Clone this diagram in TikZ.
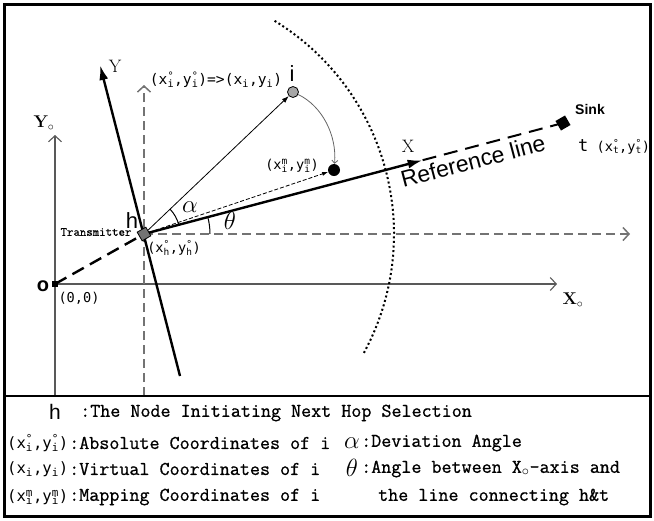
\documentclass[tikz,border=0pt]{standalone}
\usepackage{fontspec}
\setmonofont{Latin Modern Mono}[FakeBold=0.8]
\newfontfamily\lab{Liberation Sans}
\newfontfamily\cfont{DejaVu Sans Mono}
\usetikzlibrary{arrows.meta,calc}
\pgfdeclarelayer{bg}
\pgfsetlayers{bg,main}
\newcommand\supsub[2]{{\setbox0\hbox{\textsuperscript{#1}}\setbox2\hbox{\textsubscript{#2}}\ifdim\wd0>\wd2 \rlap{\box2}\box0\else\rlap{\box0}\box2\fi}}
\begin{document}
\begin{tikzpicture}[x=1pt,y=1pt,
  axiszero/.style={draw=black!65, line width=1.1pt, -{Straight Barb[length=6pt,width=13pt]}},
  dashaxis/.style={draw=black!55, line width=1.5pt, dash pattern=on 9pt off 5pt, -{Straight Barb[length=6pt,width=13pt]}},
  rotaxis/.style={line width=2.4pt, -{Latex[length=15pt,width=9pt]}},
  thickdash/.style={line width=2.4pt, dash pattern=on 13pt off 7pt},
  dotarc/.style={line width=2pt, dash pattern=on 2pt off 2.6pt},
  hnode/.style={rectangle, draw, line width=0.8pt, fill=black!55, minimum size=10pt, inner sep=0pt, rotate=30},
  onode/.style={rectangle, fill=black, minimum size=6pt, inner sep=0pt},
  inode/.style={circle, draw, line width=0.8pt, fill=black!35, minimum size=11pt, inner sep=0pt},
  mnode/.style={circle, fill=black, minimum size=12pt, inner sep=0pt},
  tnode/.style={rectangle, fill=black, minimum size=11pt, inner sep=0pt, rotate=30},
  coordlab/.style={font=\cfont\fontsize{13.6}{14}\selectfont, inner sep=0pt},
  biglab/.style={font=\lab\fontsize{22}{22}\selectfont, inner sep=0pt},
  seriflab/.style={font=\fontsize{18}{18}\selectfont, inner sep=0pt},
  legtext/.style={font=\ttfamily\fontsize{19.5}{20}\selectfont, inner sep=0pt, anchor=west},
  legcoord/.style={font=\cfont\fontsize{15.6}{16}\selectfont, inner sep=0pt, anchor=west},
  greek/.style={font=\fontsize{24}{24}\selectfont, inner sep=0pt}
]
\useasboundingbox (0,0) rectangle (654,-520);
\draw[line width=3pt] (4,-4) rectangle (650,-516);
\draw[line width=2pt] (4,-396) -- (650,-396);

% nodes
\node[hnode] (h) at (144,-234) {};
\node[onode] (o) at (55,-284) {};
\node[inode] (i) at (293,-92) {};
\node[mnode] (m) at (334,-170) {};
\node[tnode] (t) at (563,-123) {};

\coordinate (x0end) at (557,-284);
\coordinate (y0start) at (55,-396);
\coordinate (y0end) at (55,-135);
\coordinate (vstart) at (144,-396);
\coordinate (vend) at (144,-85);
\coordinate (hend) at (630,-234);
\coordinate (ybot) at (180,-376);
\coordinate (ytop) at (100,-65);
\coordinate (xtip) at ($(h.center)!0.665!(t.center)$);

\begin{pgfonlayer}{bg}
\draw[axiszero] (o.center) -- (x0end);
\draw[axiszero] (y0start) -- (y0end);
\draw[dashaxis] (vstart) -- (vend);
\draw[dashaxis] (h.center) -- (hend);
\draw[rotaxis] (ybot) -- (ytop);
\draw[thickdash] (o.center) -- (h.center);
\draw[rotaxis] (h.center) -- (xtip);
\draw[line width=2pt, dash pattern=on 14pt off 8pt] (xtip) -- (t.center);
\draw[dotarc] (h.center) ++(58.5:250) arc[start angle=58.5, end angle=-28.5, radius=250];
\draw[line width=0.8pt, -{Latex[length=7pt,width=5pt]}] (h) -- (i);
\draw[line width=0.8pt, dash pattern=on 4pt off 2pt, -{Latex[length=6pt,width=4pt]}] (h) -- (m);
\draw[black!60, line width=0.8pt, -{Straight Barb[length=3pt,width=6pt]}] (i) .. controls (322,-106) and (337,-135) .. (m);
\draw[line width=1pt] (h.center) ++(14.8:36) arc[start angle=14.8, end angle=43.6, radius=36];
\draw[line width=1pt] (h.center) ++(0:66) arc[start angle=0, end angle=14.8, radius=66];
\end{pgfonlayer}

% labels
\node[coordlab, font=\cfont\fontsize{14.6}{15}\selectfont] (lab-i) at (216,-80) {(x\supsub{°}{i},y\supsub{°}{i})=>(x\textsubscript{i},y\textsubscript{i})};
\node[biglab] (lab-ii) at (292,-74) {i};
\node[coordlab] (lab-m) at (292,-166) {(x\supsub{m}{i},y\supsub{m}{i})};
\node[biglab] (lab-h) at (132,-221) {h};
\node[font=\ttfamily\fontsize{12.5}{12.5}\selectfont, inner sep=0pt] (lab-tr) at (96,-232) {Transmitter};
\node[coordlab] (lab-hc) at (174,-248) {(x\supsub{°}{h},y\supsub{°}{h})};
\node[greek] (lab-al) at (190,-207) {$\alpha$};
\node[greek] (lab-th) at (230,-221) {$\theta$};
\node[font=\lab\bfseries\fontsize{20}{20}\selectfont, inner sep=0pt] (lab-o) at (43,-286) {o};
\node[coordlab] (lab-00) at (79,-298) {(0,0)};
\node[seriflab, font=\bfseries\fontsize{17}{17}\selectfont] (lab-y0) at (44,-123) {Y$_\circ$};
\node[seriflab, font=\bfseries\fontsize{17}{17}\selectfont] (lab-x0) at (573,-300) {X$_\circ$};
\node[seriflab] (lab-y) at (115,-66) {Y};
\node[seriflab] (lab-x) at (408,-146) {X};
\node[font=\lab\bfseries\fontsize{14}{14}\selectfont, inner sep=0pt] (lab-sink) at (590,-109) {Sink};
\node[coordlab, anchor=west] (lab-t) at (578,-147) {{\fontsize{17}{17}\selectfont t} (x\supsub{°}{t},y\supsub{°}{t})};
\node[font=\lab\fontsize{23}{23}\selectfont, inner sep=0pt, rotate=14.8] (lab-ref) at (473,-161) {Reference line};

% legend
\node[font=\lab\fontsize{21}{21}\selectfont, inner sep=0pt] (lg-h) at (55,-412) {h};
\node[legtext] (lg-h-t) at (80,-413) {:The Node Initiating Next Hop Selection};
\node[legcoord] (lg-c1) at (7,-443) {(x\supsub{°}{i},y\supsub{°}{i})};
\node[legtext] (lg-c1-t) at (69,-443) {:Absolute Coordinates of i};
\node[legcoord] (lg-c2) at (7,-469) {(x\textsubscript{i},y\textsubscript{i})};
\node[legtext] (lg-c2-t) at (69,-469) {:Virtual Coordinates of i};
\node[legcoord] (lg-c3) at (7,-497) {(x\supsub{m}{i},y\supsub{m}{i})};
\node[legtext] (lg-c3-t) at (69,-497) {:Mapping Coordinates of i};
\node[greek] (lg-al) at (352,-443) {$\alpha$};
\node[legtext] (lg-al-t) at (361,-443) {:Deviation Angle};
\node[greek] (lg-th) at (352,-468) {$\theta$};
\node[legtext] (lg-th-t) at (361,-469) {:Angle between X$_\circ$-axis and};
\node[legtext] (lg-th-t2) at (378,-497) {the line connecting h\&t};
\end{tikzpicture}
\end{document}
